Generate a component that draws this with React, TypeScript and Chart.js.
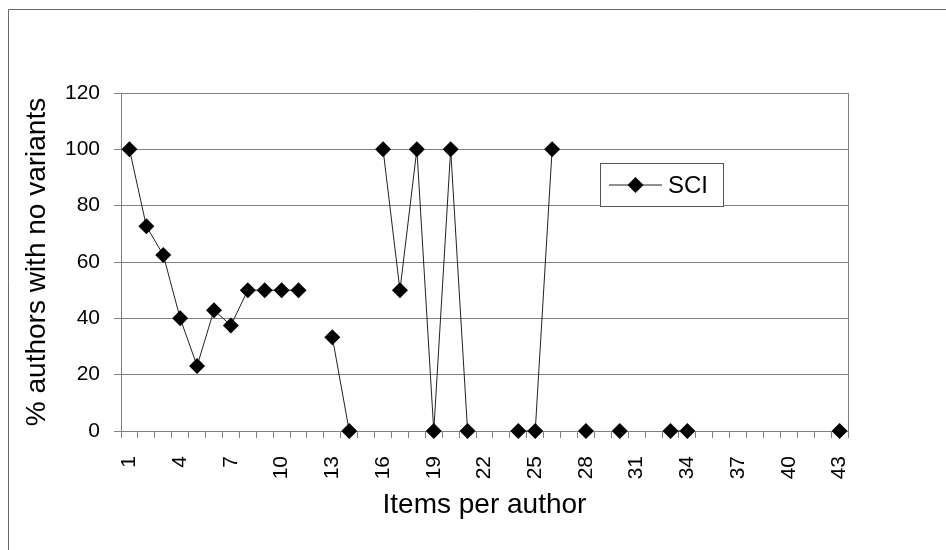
import React, { useEffect, useRef } from 'react';
import { Chart, registerables } from 'chart.js';

Chart.register(...registerables);

// ---- data ----
const categories: string[] = [
  '1', '2', '3', '4', '5', '6', '7', '8', '9', '10',
  '11', '12', '13', '14', '15', '16', '17', '18', '19', '20',
  '21', '22', '23', '24', '25', '26', '27', '28', '29', '30',
  '31', '32', '33', '34', '35', '36', '37', '38', '39', '40',
  '41', '42', '43',
];

const sciValues: (number | null)[] = [
  100, 72.7, 62.5, 40, 23.1, 42.9, 37.5, 50, 50, 50,
  50, null, 33.3, 0, null, 100, 50, 100, 0, 100,
  0, null, null, 0, 0, 100, null, 0, null, 0,
  null, null, 0, 0, null, null, null, null, null, null,
  null, null, 0,
];

const shownXLabels: string[] = ['1', '4', '7', '10', '13', '16', '19', '22', '25', '28', '31', '34', '37', '40', '43'];
const yTickValues: number[] = [0, 20, 40, 60, 80, 100, 120];

const seriesName = 'SCI';
const xTitle = 'Items per author';
const yTitle = '% authors with no variants';

const FONT = '"Liberation Sans", Arial, Helvetica, sans-serif';

const framePlugin = {
  id: 'framePlugin',
  beforeDraw(chart: any) {
    const ctx = chart.ctx;
    ctx.save();
    ctx.fillStyle = '#ffffff';
    ctx.fillRect(0, 0, chart.width, chart.height);
    ctx.strokeStyle = '#6a6a6a';
    ctx.lineWidth = 1;
    ctx.beginPath();
    ctx.moveTo(8.5, chart.height + 2);
    ctx.lineTo(8.5, 9.5);
    ctx.lineTo(chart.width + 2, 9.5);
    ctx.stroke();
    ctx.restore();
  },
  afterDatasetsDraw(chart: any) {
    const ctx = chart.ctx;
    const a = chart.chartArea;
    ctx.save();
    ctx.strokeStyle = '#808080';
    ctx.lineWidth = 1;
    ctx.beginPath();
    ctx.moveTo(Math.round(a.right) + 0.5, a.top);
    ctx.lineTo(Math.round(a.right) + 0.5, a.bottom);
    ctx.stroke();

    // legend box
    const lx = 600.5, ly = 163.5, lw = 123, lh = 43;
    ctx.fillStyle = '#ffffff';
    ctx.fillRect(lx, ly, lw, lh);
    ctx.strokeStyle = '#555555';
    ctx.strokeRect(lx, ly, lw, lh);
    const cy = ly + lh / 2;
    ctx.strokeStyle = '#222222';
    ctx.beginPath();
    ctx.moveTo(609, cy);
    ctx.lineTo(662, cy);
    ctx.stroke();
    const r = 8;
    ctx.fillStyle = '#000000';
    ctx.beginPath();
    ctx.moveTo(635.5, cy - r);
    ctx.lineTo(635.5 + r, cy);
    ctx.lineTo(635.5, cy + r);
    ctx.lineTo(635.5 - r, cy);
    ctx.closePath();
    ctx.fill();
    ctx.font = `24px ${FONT}`;
    ctx.textBaseline = 'middle';
    ctx.textAlign = 'left';
    ctx.fillText(seriesName, 668, cy + 1);
    ctx.restore();
  },
};

export default function App() {
  const canvasRef = useRef<HTMLCanvasElement | null>(null);

  useEffect(() => {
    if (!canvasRef.current) return;
    const chart = new Chart(canvasRef.current, {
      type: 'line',
      data: {
        labels: categories,
        datasets: [
          {
            label: seriesName,
            data: sciValues,
            spanGaps: false,
            borderColor: '#222222',
            borderWidth: 1,
            pointStyle: 'rectRot',
            pointRadius: 8,
            pointBackgroundColor: '#000000',
            pointBorderColor: '#000000',
            pointBorderWidth: 0,
            clip: false,
            tension: 0,
          } as any,
        ],
      },
      options: {
        animation: false,
        responsive: false,
        devicePixelRatio: 1,
        events: [],
        layout: { padding: { left: 0, right: 98, top: 93, bottom: 0 } },
        plugins: {
          legend: { display: false },
          tooltip: { enabled: false },
        },
        scales: {
          x: {
            type: 'category',
            offset: true,
            grid: {
              display: true,
              drawOnChartArea: false,
              offset: true,
              drawTicks: true,
              tickLength: 7,
              color: '#808080',
            },
            border: { display: true, color: '#808080' },
            ticks: {
              autoSkip: false,
              minRotation: 90,
              maxRotation: 90,
              padding: 18,
              color: '#000000',
              font: { family: FONT, size: 21 },
              callback: (_v: any, i: number) =>
                shownXLabels.includes(categories[i]) ? categories[i] : '',
            },
            title: {
              display: true,
              text: xTitle,
              color: '#000000',
              font: { family: FONT, size: 28 },
              padding: { top: 0, bottom: 28 },
            },
            afterFit: (s: any) => {
              s.height = 119;
            },
          },
          y: {
            min: 0,
            max: 120,
            afterBuildTicks: (s: any) => {
              s.ticks = yTickValues.map((v) => ({ value: v }));
            },
            grid: {
              color: '#808080',
              drawTicks: true,
              tickLength: 7,
            },
            border: { display: true, color: '#808080' },
            ticks: {
              padding: 14,
              color: '#000000',
              font: { family: FONT, size: 21 },
            },
            title: {
              display: true,
              text: yTitle,
              color: '#000000',
              font: { family: FONT, size: 28 },
              padding: { top: 20, bottom: 0 },
            },
            afterFit: (s: any) => {
              s.width = 121;
            },
          },
        },
      } as any,
      plugins: [framePlugin],
    });
    return () => chart.destroy();
  }, []);

  return (
    <div style={{ position: 'absolute', left: 0, top: 0, width: 946, height: 550, background: '#fff' }}>
      <canvas ref={canvasRef} width={946} height={550} style={{ display: 'block' }} />
    </div>
  );
}
